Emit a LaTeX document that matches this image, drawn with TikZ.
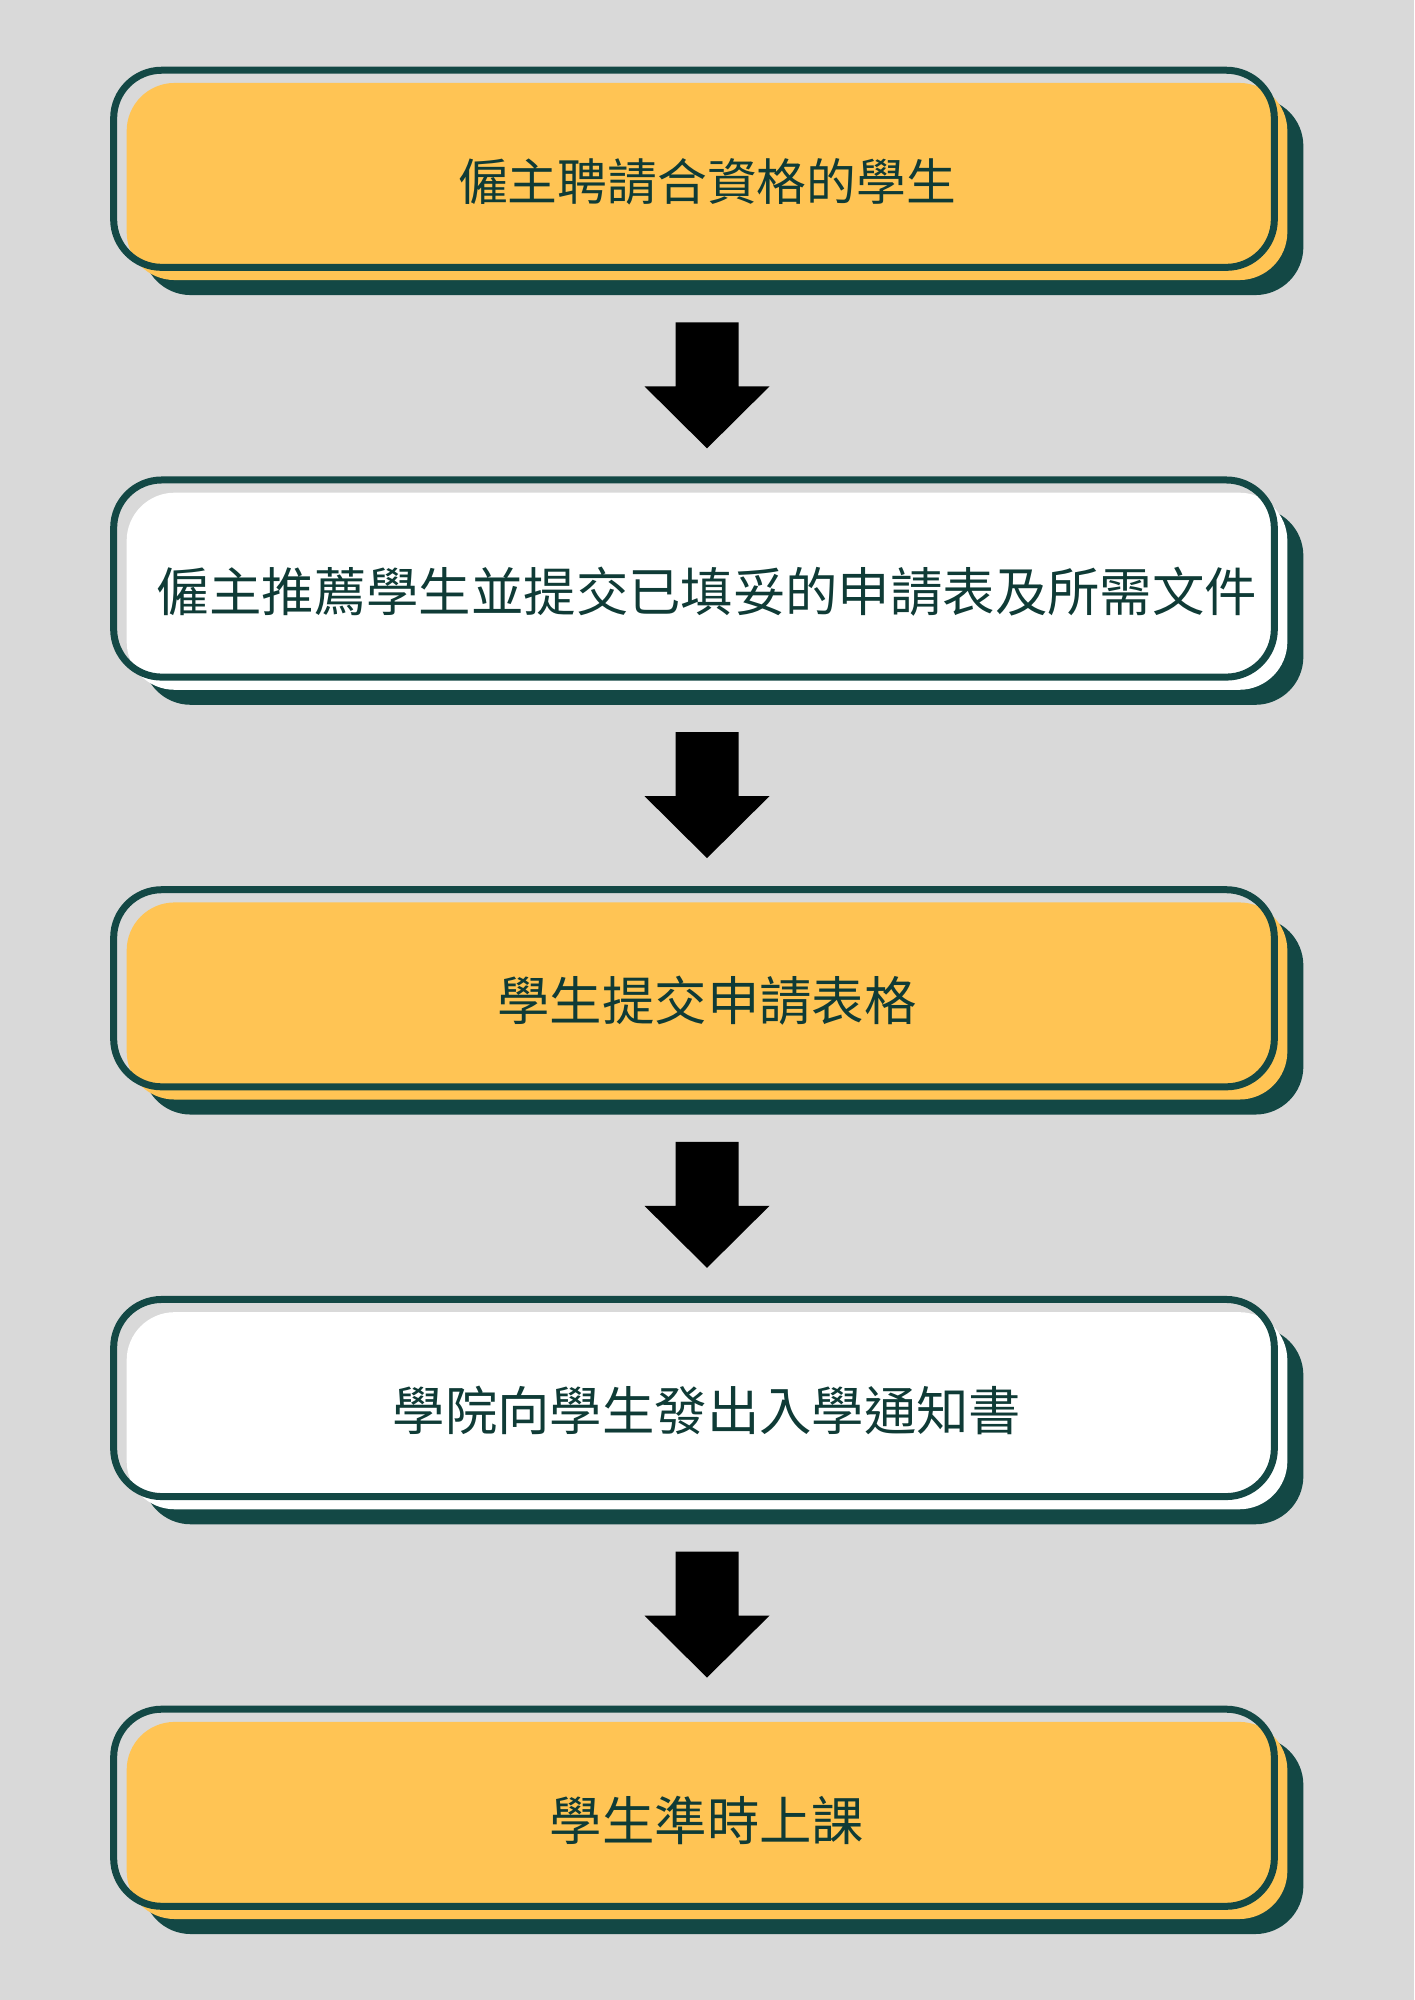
\documentclass[tikz,border=0pt]{standalone}
\usepackage{fontspec}
\setmainfont{Noto Sans CJK TC}
\usepackage{xcolor}
\usetikzlibrary{positioning,calc,shadows}

\definecolor{pagegray}{HTML}{D9D9D9}
\definecolor{stepyellow}{HTML}{FFC454}
\definecolor{deepgreen}{HTML}{134845}
\definecolor{textgreen}{HTML}{0F3B36}

\tikzset{
  stepbox/.style={rounded corners=0.48cm, minimum width=11.6cm, minimum height=1.97cm,
    inner sep=0pt, outer sep=0pt, text=textgreen, font=\fontsize{14.9pt}{18pt}\selectfont,
    general shadow={fill=deepgreen, shadow xshift=0.16cm, shadow yshift=-0.15cm}},
  frameline/.style={draw=deepgreen, line width=0.07cm, rounded corners=0.48cm},
  downarrow/.style={fill=black}
}

\begin{document}
\begin{tikzpicture}[x=0.01cm,y=0.01cm,node distance=2.125cm]
  \fill[pagegray] (0,0) rectangle (1414,-2000);
  \useasboundingbox (0,0) rectangle (1414,-2000);
  % steps
  \node[stepbox,fill=stepyellow,font=\fontsize{14.15pt}{17pt}\selectfont] (s1) at (707,-181.5) {僱主聘請合資格的學生};
  \node[stepbox,fill=white,below=of s1] (s2) {僱主推薦學生並提交已填妥的申請表及所需文件};
  \node[stepbox,fill=stepyellow,below=of s2] (s3) {學生提交申請表格};
  \node[stepbox,fill=white,below=of s3] (s4) {學院向學生發出入學通知書};
  \node[stepbox,fill=stepyellow,below=of s4] (s5) {學生準時上課};
  % offset frames
  \foreach \i in {1,...,5}
    \draw[frameline] ([shift={(-0.13cm,0.127cm)}]s\i.south west) rectangle ([shift={(-0.13cm,0.127cm)}]s\i.north east);
  % block arrows between steps
  \foreach \i [evaluate=\i as \j using int(\i+1)] in {1,...,4} {
    \coordinate (a\i) at ($(s\i.south)!0.5!(s\j.north)+(0,1)$);
    \fill[downarrow] ($(a\i)+(-31.5,63)$) -- ($(a\i)+(31.5,63)$) -- ($(a\i)+(31.5,-1)$)
      -- ($(a\i)+(62.5,-1)$) -- ($(a\i)+(0,-63)$) -- ($(a\i)+(-62.5,-1)$)
      -- ($(a\i)+(-31.5,-1)$) -- cycle;
  }
\end{tikzpicture}
\end{document}
